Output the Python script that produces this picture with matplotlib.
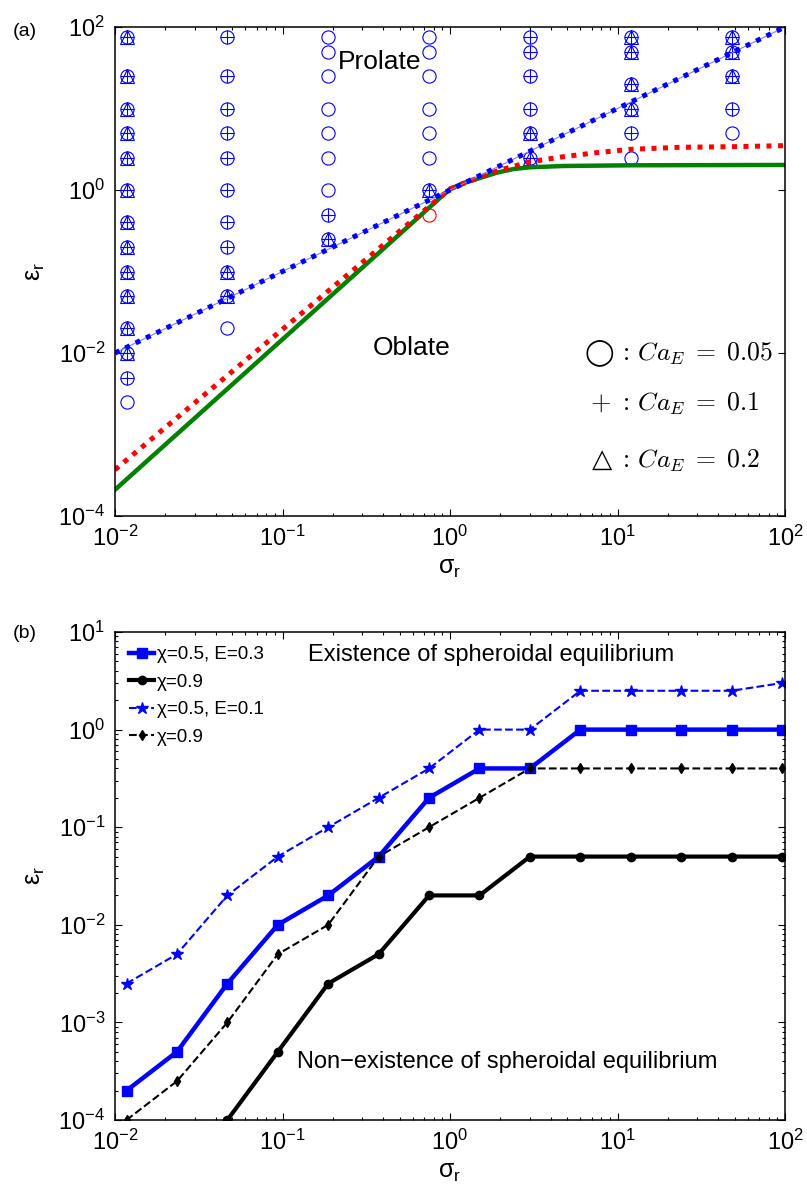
import matplotlib
matplotlib.use('Agg')
import matplotlib.pyplot as plt
import numpy as np
from matplotlib.ticker import FixedLocator, NullLocator, FuncFormatter, LogLocator

plt.rcParams['font.family'] = ['Liberation Sans', 'DejaVu Sans']
plt.rcParams['mathtext.fontset'] = 'custom'
plt.rcParams['mathtext.rm'] = 'Liberation Sans'
plt.rcParams['mathtext.it'] = 'Liberation Sans:italic'
plt.rcParams['mathtext.bf'] = 'Liberation Sans:bold'

# ---------------- Panel (a) data ----------------
sigma_cols = [0.01171875, 0.046875, 0.1875, 0.75, 3.0, 12.0, 48.0]
# eps values per column where each CaE marker is drawn
circle_eps = [
    [75, 25, 10, 5, 2.5, 1, 0.4, 0.2, 0.1, 0.05, 0.02, 0.01, 0.005, 0.0025],
    [75, 25, 10, 5, 2.5, 1, 0.4, 0.2, 0.1, 0.05, 0.02],
    [75, 50, 25, 10, 5, 2.5, 1, 0.5, 0.25],
    [75, 50, 25, 10, 5, 2.5, 1],
    [75, 50, 25, 10, 5, 2.5],
    [75, 50, 20, 10, 5, 2.5],
    [75, 50, 25, 10, 5],
]
plus_eps = [
    [75, 25, 10, 5, 2.5, 1, 0.4, 0.2, 0.1, 0.05, 0.02, 0.01, 0.005],
    [75, 25, 10, 5, 2.5, 1, 0.4, 0.2, 0.1, 0.05],
    [0.5, 0.25],
    [1],
    [75, 50, 25, 10, 5, 2.5],
    [75, 50, 20, 10, 5],
    [75, 50, 25, 10],
]
tri_eps = [
    [75, 25, 10, 5, 2.5, 1, 0.4, 0.2, 0.1, 0.05, 0.02, 0.01],
    [0.1, 0.05],
    [0.25],
    [1],
    [5, 2.5],
    [75, 50, 20, 10],
    [75, 50, 25],
]
red_pt_sigma = [0.75]
red_pt_eps = [0.5]

diag_sigma = [0.01, 100]
diag_eps = [0.01, 100]
red_curve_sigma = [0.01, 1.0, 1.2, 1.9, 3.0, 4.75, 7.5, 12, 23.6, 48, 100]
red_curve_eps = [3.7e-4, 1.03, 1.2, 1.71, 2.22, 2.56, 2.87, 3.16, 3.34, 3.4, 3.5]
green_curve_sigma = [0.01, 1.0, 1.2, 1.9, 2.4, 3.0, 4.75, 12, 100]
green_curve_eps = [2.1e-4, 1.03, 1.21, 1.63, 1.81, 1.9, 1.97, 2.01, 2.03]

ca_symbols = ['◯', r'$+$', '△']
ca_texts = [r'$:\,Ca_E\;=\;0.05$', r'$:\,Ca_E\;=\;0.1$', r'$:\,Ca_E\;=\;0.2$']

# ---------------- Panel (b) data ----------------
sigma_b = [0.01171875, 0.0234375, 0.046875, 0.09375, 0.1875, 0.375, 0.75,
           1.5, 3, 6, 12, 24, 48, 96]
eps_chi05_E03 = [2e-4, 5e-4, 2.5e-3, 1e-2, 2e-2, 5e-2, 0.2, 0.4, 0.4, 1, 1, 1, 1, 1]
eps_chi09_E03 = [np.nan, np.nan, 1e-4, 5e-4, 2.5e-3, 5e-3, 0.02, 0.02, 0.05,
                 0.05, 0.05, 0.05, 0.05, 0.05]
eps_chi05_E01 = [2.5e-3, 5e-3, 0.02, 0.05, 0.1, 0.2, 0.4, 1, 1, 2.5, 2.5, 2.5, 2.5, 3]
eps_chi09_E01 = [1e-4, 2.5e-4, 1e-3, 5e-3, 1e-2, 0.05, 0.1, 0.2, 0.4, 0.4, 0.4,
                 0.4, 0.4, 0.4]
legend_labels = ['χ=0.5, E=0.3', 'χ=0.9', 'χ=0.5, E=0.1', 'χ=0.9']

W, H = 807, 1189
fig = plt.figure(figsize=(W / 100, H / 100), dpi=100)

ax1 = fig.add_axes([115 / W, 1 - 516 / H, 670 / W, 489 / H])
ax2 = fig.add_axes([115 / W, 1 - 1120 / H, 670 / W, 488 / H])

def logfmt(v, pos):
    return r'$\mathregular{10^{%d}}$' % int(round(np.log10(v)))

for ax in (ax1, ax2):
    ax.set_xscale('log')
    ax.set_yscale('log')
    ax.set_xlim(1e-2, 1e2)
    ax.tick_params(which='both', direction='in', top=True, right=True,
                   labelsize=17, width=0.8)
    ax.tick_params(which='major', length=5, pad=7)
    ax.tick_params(which='minor', length=2.5)
    ax.xaxis.set_major_locator(FixedLocator([1e-2, 1e-1, 1, 10, 100]))
    ax.xaxis.set_minor_locator(LogLocator(base=10, subs=np.arange(2, 10), numticks=20))
    ax.xaxis.set_major_formatter(FuncFormatter(logfmt))
    ax.yaxis.set_major_formatter(FuncFormatter(logfmt))
    for s in ax.spines.values():
        s.set_linewidth(1.1)
    ax.set_xlabel(r'$\mathregular{σ_r}$', fontsize=18, labelpad=4)
    ax.set_ylabel(r'$\mathregular{ε_r}$', fontsize=18, labelpad=8)

# ---- panel (a)
ax1.set_ylim(1e-4, 1e2)
ax1.yaxis.set_major_locator(FixedLocator([1e-4, 1e-2, 1, 100]))
ax1.yaxis.set_minor_locator(NullLocator())

blue = (0, 0, 1)
ms = 9.5
for s, eps in zip(sigma_cols, circle_eps):
    ax1.plot([s] * len(eps), eps, linestyle='none', marker='o', ms=ms,
             mfc='none', mec=blue, mew=0.8)
for s, eps in zip(sigma_cols, plus_eps):
    ax1.plot([s] * len(eps), eps, linestyle='none', marker='+', ms=ms,
             mec=blue, mew=0.8)
for s, eps in zip(sigma_cols, tri_eps):
    ax1.plot([s] * len(eps), eps, linestyle='none', marker='^', ms=ms + 1,
             mfc='none', mec=blue, mew=0.8)
ax1.plot(red_pt_sigma, red_pt_eps, linestyle='none', marker='o', ms=ms,
         mfc='none', mec='red', mew=0.8)

ax1.plot(green_curve_sigma, green_curve_eps, color=(0, 0.5, 0), lw=3.2,
         solid_joinstyle='round')
ax1.plot(red_curve_sigma, red_curve_eps, color='red', lw=3.6,
         dashes=(1.0, 1.3), dash_capstyle='butt')
ax1.plot(diag_sigma, diag_eps, color=(0.5, 0.5, 1), lw=0.8)
ax1.plot(diag_sigma, diag_eps, color=blue, lw=3.6,
         dashes=(1.0, 1.3), dash_capstyle='butt')

ax1.text((380 - 115) / 670, 1 - (62 - 27) / 489, 'Prolate', transform=ax1.transAxes,
         ha='center', va='center', fontsize=19)
ax1.text((412 - 115) / 670, 1 - (348 - 27) / 489, 'Oblate',
         transform=ax1.transAxes, ha='center', va='center', fontsize=19)

sym_x = [599, 600, 602]
sym_size = [19, 19, 19]
txt_y = [353, 403, 460]
for sym, t, sx, sz, y in zip(ca_symbols, ca_texts, sym_x, sym_size, txt_y):
    fig.text(sx / W, 1 - y / H, sym, ha='center', va='center', fontsize=sz,
             family='DejaVu Sans', math_fontfamily='cm')
    fig.text(618 / W, 1 - (y + 1) / H, t, ha='left', va='center', fontsize=18.5,
             math_fontfamily='cm')

# ---- panel (b)
ax2.set_ylim(1e-4, 1e1)
ax2.yaxis.set_major_locator(FixedLocator([1e-4, 1e-3, 1e-2, 1e-1, 1, 10]))
ax2.yaxis.set_minor_locator(LogLocator(base=10, subs=np.arange(2, 10), numticks=20))

h1, = ax2.plot(sigma_b, eps_chi05_E03, color=blue, lw=3.2, marker='s', ms=6.5,
               mfc=blue, mec=blue)
h2, = ax2.plot(sigma_b, eps_chi09_E03, color='black', lw=3.0, marker='o', ms=6,
               mfc='black', mec='black')
h3, = ax2.plot(sigma_b, eps_chi05_E01, color=blue, lw=1.5, linestyle='--',
               marker='*', ms=9, mfc=blue, mec=blue)
h4, = ax2.plot(sigma_b, eps_chi09_E01, color='black', lw=1.5, linestyle='--',
               marker='d', ms=5, mfc='black', mec='black')
ax2.legend([h1, h2, h3, h4], legend_labels, loc='upper left', frameon=False,
           fontsize=13.5, handlelength=1.35, handletextpad=0.12,
           borderaxespad=0.5, labelspacing=0.55, borderpad=0.25)

ax2.text((308 - 115) / 670, 1 - (655 - 632) / 488,
         'Existence of spheroidal equilibrium', transform=ax2.transAxes,
         ha='left', va='center', fontsize=17)
ax2.text((297 - 115) / 670, 1 - (1062 - 632) / 488,
         'Non\u2212existence of spheroidal equilibrium', transform=ax2.transAxes,
         ha='left', va='center', fontsize=17)

fig.text(25 / W, 1 - 32 / H, '(a)', ha='center', va='center', fontsize=14)
fig.text(25 / W, 1 - 633 / H, '(b)', ha='center', va='center', fontsize=14)

fig.savefig('out.png', dpi=100)
